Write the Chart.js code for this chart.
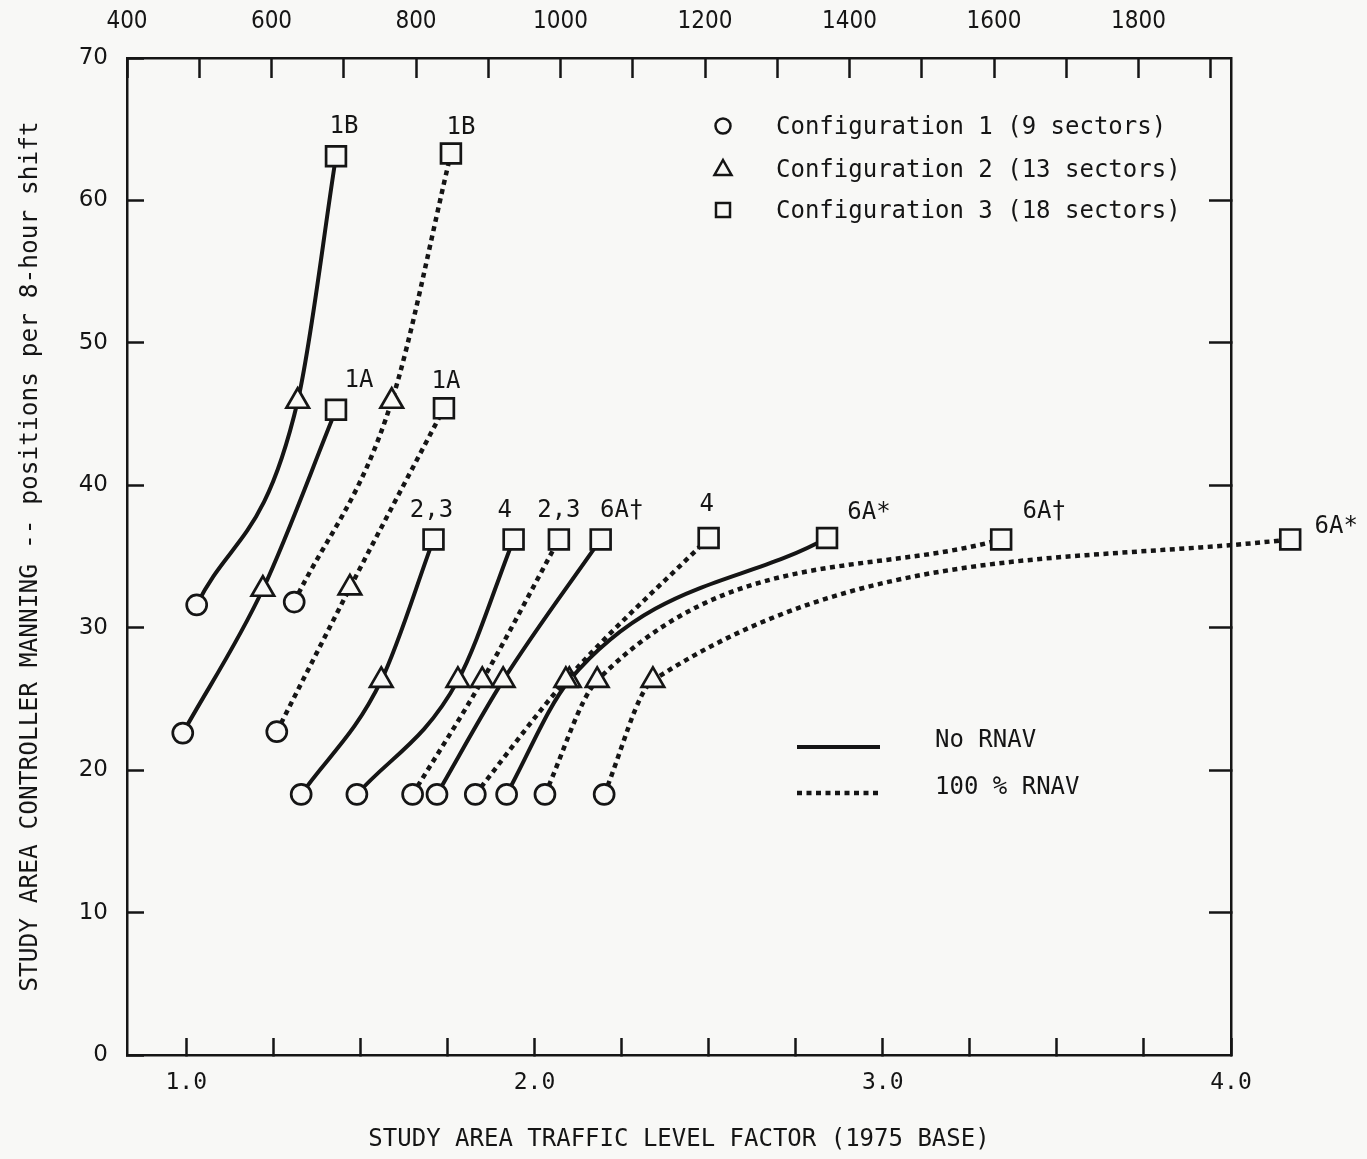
<!DOCTYPE html>
<html>
<head>
<meta charset="utf-8">
<title>Study area controller manning vs traffic level factor</title>
<script src="https://cdn.jsdelivr.net/npm/chart.js@4.4.0/dist/chart.umd.min.js"></script>
<style>
  html, body { margin: 0; padding: 0; background: #f8f8f6; }
  #chart { display: block; background: #f8f8f6; }
</style>
</head>
<body>
<canvas id="chart" width="1367" height="1159"></canvas>
<script>
// name written next to the config-3 square of each curve
const curveNames = ['1B', '1B', '1A', '1A', '2,3', '4', '2,3', '6A†', '4', '6A*', '6A†', '6A*'];
// true = 100 % RNAV (dotted), false = no RNAV (solid)
const curveRnav = [false, true, false, true, false, false, true, false, true, false, true, true];

// Configuration 1 (9 sectors) - circles
const config1Traffic = [1.03, 1.31, 0.99, 1.26, 1.33, 1.49, 1.65, 1.72, 1.83, 1.92, 2.03, 2.20];
const config1Manning = [31.6, 31.8, 22.6, 22.7, 18.3, 18.3, 18.3, 18.3, 18.3, 18.3, 18.3, 18.3];
// Configuration 2 (13 sectors) - triangles
const config2Traffic = [1.32, 1.59, 1.22, 1.47, 1.56, 1.78, 1.85, 1.91, 2.09, 2.10, 2.18, 2.34];
const config2Manning = [45.9, 45.9, 32.7, 32.8, 26.3, 26.3, 26.3, 26.3, 26.3, 26.3, 26.3, 26.3];
// Configuration 3 (18 sectors) - squares
const config3Traffic = [1.43, 1.76, 1.43, 1.74, 1.71, 1.94, 2.07, 2.19, 2.50, 2.84, 3.34, 4.17];
const config3Manning = [63.1, 63.3, 45.3, 45.4, 36.2, 36.2, 36.2, 36.2, 36.3, 36.3, 36.2, 36.2];

const configNames = ['Configuration 1 (9 sectors)', 'Configuration 2 (13 sectors)', 'Configuration 3 (18 sectors)'];
const rnavNames = ['No RNAV', '100 % RNAV'];

// axis ticks
const bottomTicks = [1.0, 1.25, 1.5, 1.75, 2.0, 2.25, 2.5, 2.75, 3.0, 3.25, 3.5, 3.75, 4.0];
const bottomLabels = ['1.0', '2.0', '3.0', '4.0'];
const topTicks = [400, 500, 600, 700, 800, 900, 1000, 1100, 1200, 1300, 1400, 1500, 1600, 1700, 1800, 1900];
const topLabels = ['400', '600', '800', '1000', '1200', '1400', '1600', '1800'];
const yTicks = [0, 10, 20, 30, 40, 50, 60, 70];
const yInnerTicks = [10, 20, 30, 40, 50, 60];

const AIRCRAFT_PER_FACTOR = 482;  // top scale = traffic factor * this
const TOP_MIN = 400;
const X_MIN = TOP_MIN / AIRCRAFT_PER_FACTOR;
const X_MAX = 4.0;

const INK = '#151515';
const PAPER = '#f8f8f6';
const MONO = '"DejaVu Sans Mono", "Liberation Mono", monospace';
const SANS = '"DejaVu Sans", "Liberation Sans", sans-serif';
const NARROW = '"Liberation Sans Narrow", "DejaVu Sans Condensed", "DejaVu Sans Mono", sans-serif';

// where each curve name sits relative to its square (px)
const nameOffsets = [
  [8, -30], [10, -26], [23, -29], [2, -27], [-2, -29], [-9, -29],
  [0, -29], [21, -29], [-2, -33], [42, -25], [43, -28], [46, -13]
];

const datasets = curveNames.map((name, i) => ({
  label: name,
  data: [
    { x: config1Traffic[i], y: config1Manning[i] },
    { x: config2Traffic[i], y: config2Manning[i] },
    { x: config3Traffic[i], y: config3Manning[i] }
  ],
  xAxisID: 'x',
  yAxisID: 'y',
  borderColor: INK,
  borderWidth: curveRnav[i] ? 4.5 : 4,
  borderDash: curveRnav[i] ? [5, 4.5] : [],
  cubicInterpolationMode: 'monotone',
  fill: false,
  clip: false,
  pointStyle: ['circle', 'triangle', 'rect'],
  pointRadius: [10, 13, 14],
  pointBorderWidth: 2.7,
  pointBorderColor: INK,
  pointBackgroundColor: PAPER
}));

const curveNamePlugin = {
  id: 'curveNames',
  afterDatasetsDraw(chart) {
    const ctx = chart.ctx;
    const a = chart.chartArea;
    // Chart.js skips points lying outside the plot area; the last 6A* square
    // sits past the frame in the original, so draw those ones here
    chart.data.datasets.forEach((ds, i) => {
      chart.getDatasetMeta(i).data.forEach(pt => {
        if (pt.x > a.right + 14 || pt.x < a.left - 14 || pt.y < a.top - 14 || pt.y > a.bottom + 14) {
          pt.draw(ctx);
        }
      });
    });

    ctx.save();
    ctx.fillStyle = INK;
    ctx.font = '24px ' + MONO;
    ctx.textAlign = 'center';
    ctx.textBaseline = 'middle';
    curveNames.forEach((name, i) => {
      const sq = chart.getDatasetMeta(i).data[2];
      ctx.fillText(name, sq.x + nameOffsets[i][0], sq.y + nameOffsets[i][1]);
    });
    ctx.restore();
  }
};

const figureLegend = {
  id: 'figureLegend',
  afterDraw(chart) {
    const ctx = chart.ctx;
    const a = chart.chartArea;
    ctx.save();
    ctx.strokeStyle = INK;
    ctx.fillStyle = INK;
    ctx.lineWidth = 2.5;
    ctx.font = '24px ' + MONO;
    ctx.textAlign = 'left';
    ctx.textBaseline = 'middle';

    // symbol legend
    const sx = a.left + 596;
    const rows = [a.top + 68, a.top + 111, a.top + 152];
    ctx.beginPath();
    ctx.arc(sx, rows[0], 7.5, 0, Math.PI * 2);
    ctx.stroke();
    ctx.beginPath();
    ctx.moveTo(sx, rows[1] - 9);
    ctx.lineTo(sx + 8.5, rows[1] + 6);
    ctx.lineTo(sx - 8.5, rows[1] + 6);
    ctx.closePath();
    ctx.stroke();
    ctx.strokeRect(sx - 7, rows[2] - 7, 14, 14);
    configNames.forEach((t, k) => ctx.fillText(t, a.left + 649, rows[k] + 2));

    // line legend
    const lx0 = a.left + 670, lx1 = a.left + 753;
    ctx.lineWidth = 4;
    ctx.beginPath();
    ctx.moveTo(lx0, a.top + 689);
    ctx.lineTo(lx1, a.top + 689);
    ctx.stroke();
    ctx.lineWidth = 4.5;
    ctx.setLineDash([5, 4.5]);
    ctx.beginPath();
    ctx.moveTo(lx0, a.top + 735);
    ctx.lineTo(lx1, a.top + 735);
    ctx.stroke();
    ctx.setLineDash([]);
    ctx.fillText(rnavNames[0], a.left + 808, a.top + 683);
    ctx.fillText(rnavNames[1], a.left + 808, a.top + 730);
    ctx.restore();
  }
};

const frameGrid = (len) => ({
  display: true,
  drawOnChartArea: false,
  drawTicks: true,
  tickLength: len,   // negative => ticks point into the plot
  tickWidth: 2.5,
  tickColor: INK,
  color: INK
});
const frameBorder = { display: true, color: INK, width: 2.5 };

new Chart(document.getElementById('chart'), {
  type: 'line',
  data: { datasets },
  options: {
    responsive: false,
    animation: false,
    events: [],
    layout: { padding: 0 },
    plugins: {
      legend: { display: false },
      tooltip: { enabled: false }
    },
    scales: {
      x: {
        type: 'linear',
        position: 'bottom',
        min: X_MIN,
        max: X_MAX,
        afterBuildTicks: (s) => { s.ticks = bottomTicks.map(v => ({ value: v })); },
        afterFit: (s) => { s.height = 104; },
        grid: frameGrid(-17),
        border: frameBorder,
        ticks: {
          autoSkip: false,
          maxRotation: 0,
          padding: 31,
          color: INK,
          font: { family: MONO, size: 23 },
          callback: (v) => Number.isInteger(v) && bottomLabels.includes(v.toFixed(1)) ? v.toFixed(1) : ''
        },
        title: {
          display: true,
          text: 'STUDY AREA TRAFFIC LEVEL FACTOR (1975 BASE)',
          color: INK,
          font: { family: MONO, size: 24 },
          padding: { top: 0, bottom: 5 }
        }
      },
      x2: {
        type: 'linear',
        position: 'top',
        min: TOP_MIN,
        max: X_MAX * AIRCRAFT_PER_FACTOR,
        afterBuildTicks: (s) => { s.ticks = topTicks.map(v => ({ value: v })); },
        afterFit: (s) => { s.height = 58; },
        grid: frameGrid(-20),
        border: frameBorder,
        ticks: {
          autoSkip: false,
          maxRotation: 0,
          padding: 42,
          color: INK,
          font: { family: NARROW, size: 24 },
          callback: (v) => topLabels.includes(String(v)) ? String(v) : ''
        }
      },
      y: {
        type: 'linear',
        position: 'left',
        min: 0,
        max: 70,
        afterBuildTicks: (s) => { s.ticks = yTicks.map(v => ({ value: v })); },
        afterFit: (s) => { s.width = 127; },
        grid: frameGrid(-17),
        border: frameBorder,
        ticks: {
          autoSkip: false,
          padding: 36,
          color: INK,
          font: { family: SANS, size: 23 }
        },
        title: {
          display: true,
          text: 'STUDY AREA CONTROLLER MANNING -- positions per 8-hour shift',
          color: INK,
          font: { family: MONO, size: 24.5 },
          padding: { top: 16, bottom: 0 }
        }
      },
      y2: {
        type: 'linear',
        position: 'right',
        min: 0,
        max: 70,
        afterBuildTicks: (s) => { s.ticks = yInnerTicks.map(v => ({ value: v })); },
        afterFit: (s) => { s.width = 136; },
        grid: frameGrid(-22),
        border: frameBorder,
        ticks: { callback: () => '' }
      }
    }
  },
  plugins: [curveNamePlugin, figureLegend]
});
</script>
</body>
</html>
